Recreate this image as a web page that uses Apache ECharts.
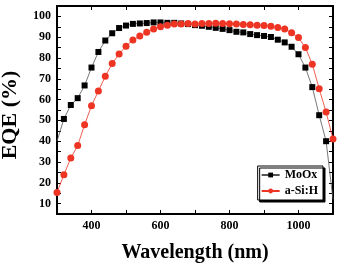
<!DOCTYPE html>
<html lang="en">
<head>
    <meta charset="UTF-8">
    <title>EQE</title>
    <script src="https://cdn.jsdelivr.net/npm/echarts@6/dist/echarts.min.js"></script>
    <style>
        html, body { margin: 0; padding: 0; background: #fff; }
    </style>
</head>
<body>
<div id="main" style="width: 337px;height: 263px"></div>
<script>
    var wavelength = [300, 320, 340, 360, 380, 400, 420, 440, 460, 480,
        500, 520, 540, 560, 580, 600, 620, 640, 660, 680,
        700, 720, 740, 760, 780, 800, 820, 840, 860, 880,
        900, 920, 940, 960, 980, 1000, 1020, 1040, 1060, 1080, 1100];
    var moox = [40.0, 50.7, 57.4, 60.7, 66.8, 75.4, 82.9, 88.4, 91.9, 94.4,
        95.6, 96.4, 96.6, 96.8, 97.1, 97.1, 96.9, 96.9, 96.6, 96.3,
        95.8, 95.5, 95.0, 94.5, 94.0, 93.4, 92.6, 92.3, 91.5, 91.0,
        90.6, 90.1, 88.8, 87.5, 85.4, 81.8, 75.4, 66.0, 52.5, 40.0, 12.0];
    var asih = [15.3, 23.9, 31.9, 37.9, 47.9, 57.1, 64.1, 71.2, 77.3, 81.9,
        85.7, 88.6, 90.6, 92.4, 94.0, 95.0, 95.8, 96.3, 96.3, 96.6,
        96.3, 96.6, 96.6, 96.7, 96.6, 96.5, 96.3, 96.1, 96.0, 95.8,
        95.6, 95.3, 94.7, 94.0, 92.1, 89.8, 85.0, 77.0, 65.2, 54.0, 41.0];

    // the MoOx squares at the two frame edges are not drawn in the original
    function pairs(ys, hideEnds) {
        return wavelength.map(function (x, i) {
            var item = { value: [x, ys[i]] };
            if (hideEnds && (i === 0 || i === wavelength.length - 1)) item.symbolSize = 0;
            return item;
        });
    }

    var font = "'Liberation Serif', 'Times New Roman', serif";
    var axisLine = { show: true, lineStyle: { color: '#000', width: 2 } };
    var tick = { show: true, inside: true, length: 4, lineStyle: { color: '#000', width: 1 } };

    var myChart = echarts.init(document.getElementById('main'));
    var option = {
        animation: false,
        backgroundColor: '#fff',
        grid: { left: 57, right: 4, top: 6, bottom: 49, outerBoundsMode: 'none', containLabel: false },
        legend: {
            orient: 'vertical',
            right: 14,
            top: 166,
            itemWidth: 18,
            itemHeight: 6,
            itemGap: 4,
            padding: [3, 5, 3, 3],
            backgroundColor: '#fff',
            borderColor: '#000',
            borderWidth: 1,
            shadowColor: '#000',
            shadowBlur: 0,
            shadowOffsetX: 2,
            shadowOffsetY: 2,
            textStyle: { fontFamily: font, fontWeight: 'bold', fontSize: 12, color: '#000' },
            data: ['MoOx', 'a-Si:H']
        },
        xAxis: [{
            type: 'value',
            min: 300, max: 1100, interval: 100,
            name: 'Wavelength (nm)',
            nameLocation: 'middle',
            nameGap: 29,
            nameTextStyle: { fontFamily: font, fontWeight: 'bold', fontSize: 20, color: '#000' },
            axisLine: axisLine,
            axisTick: tick,
            splitLine: { show: false },
            axisLabel: {
                fontFamily: font, fontWeight: 'bold', fontSize: 12, color: '#000', margin: 6,
                formatter: function (v) { return (v % 200 === 0 && v > 300 && v < 1100) ? String(v) : ''; }
            }
        }, {
            type: 'value', position: 'top',
            min: 300, max: 1100, interval: 100,
            axisLine: axisLine, axisTick: tick,
            axisLabel: { show: false }, splitLine: { show: false }
        }],
        yAxis: [{
            type: 'value',
            min: 5, max: 105, interval: 5,
            name: 'EQE (%)',
            nameLocation: 'middle',
            nameGap: 36,
            nameTextStyle: {
                fontFamily: font, fontWeight: 'bold', fontSize: 22, color: '#000',
                padding: [0, 10, 0, 0]
            },
            axisLine: axisLine,
            axisTick: tick,
            splitLine: { show: false },
            axisLabel: {
                fontFamily: font, fontWeight: 'bold', fontSize: 12, color: '#000', margin: 6,
                formatter: function (v) { return (v % 10 === 0) ? String(v) : ''; }
            }
        }, {
            type: 'value', position: 'right',
            min: 5, max: 105, interval: 5,
            axisLine: axisLine, axisTick: tick,
            axisLabel: { show: false }, splitLine: { show: false }
        }],
        series: [{
            name: 'MoOx',
            type: 'line',
            data: pairs(moox, true),
            symbol: 'rect',
            symbolSize: 6,
            itemStyle: { color: '#000' },
            lineStyle: { color: '#555', width: 0.8 }
        }, {
            name: 'a-Si:H',
            type: 'line',
            data: pairs(asih, false),
            symbol: 'circle',
            symbolSize: 7,
            itemStyle: { color: '#ee3524' },
            lineStyle: { color: '#ee3524', width: 0.8 }
        }]
    };
    myChart.setOption(option);
</script>
</body>
</html>
